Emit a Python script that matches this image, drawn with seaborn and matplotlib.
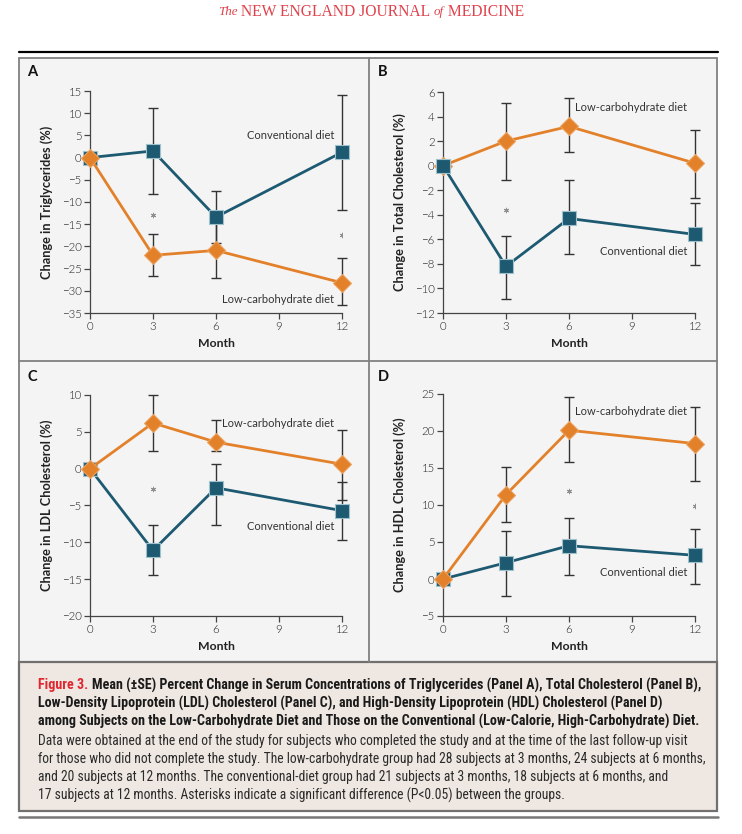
import numpy as np
import pandas as pd
import matplotlib
matplotlib.use("Agg")
import matplotlib.pyplot as plt
import seaborn as sns
from matplotlib.patches import Rectangle
from matplotlib.lines import Line2D
from matplotlib import font_manager as fm

# ---------------- data ----------------
months = [0, 3, 6, 12]
diets = ["Low-carbohydrate diet", "Conventional diet"]

# Panel A - triglycerides
tg_low = [0, -22.0, -20.9, -28.2]
tg_low_lo = [0, -26.7, -27.1, -33.3]
tg_low_hi = [0, -17.3, -14.7, -22.7]
tg_conv = [0, 1.5, -13.4, 1.2]
tg_conv_lo = [0, -8.2, -19.3, -11.8]
tg_conv_hi = [0, 11.2, -7.6, 14.0]
tg_stars = [(3, -13.0), (12, -17.5)]

# Panel B - total cholesterol
tc_low = [0, 2.0, 3.2, 0.2]
tc_low_lo = [0, -1.2, 1.1, -2.6]
tc_low_hi = [0, 5.1, 5.5, 2.9]
tc_conv = [0, -8.2, -4.3, -5.6]
tc_conv_lo = [0, -10.9, -7.2, -8.1]
tc_conv_hi = [0, -5.7, -1.2, -3.0]
tc_stars = [(3, -3.6)]

# Panel C - LDL cholesterol
ldl_low = [0, 6.2, 3.6, 0.6]
ldl_low_lo = [0, 2.4, 2.4, -4.2]
ldl_low_hi = [0, 10.0, 6.6, 5.2]
ldl_conv = [0, -11.1, -2.6, -5.7]
ldl_conv_lo = [0, -14.5, -7.7, -9.7]
ldl_conv_hi = [0, -7.6, 0.6, -1.8]
ldl_stars = [(3, -2.8)]

# Panel D - HDL cholesterol
hdl_low = [0, 11.4, 20.1, 18.3]
hdl_low_lo = [0, 7.7, 15.8, 13.2]
hdl_low_hi = [0, 15.2, 24.6, 23.2]
hdl_conv = [0, 2.2, 4.5, 3.2]
hdl_conv_lo = [0, -2.3, 0.6, -0.7]
hdl_conv_hi = [0, 6.5, 8.3, 6.8]
hdl_stars = [(6, 11.9), (12, 9.9)]

x_ticks = [0, 3, 6, 9, 12]

header_runs = [("The", "italic", 7.5), (" NEW ENGLAND JOURNAL ", "normal", 9), ("of", "italic", 7.5), (" MEDICINE", "normal", 9)]
caption_bold = [
    "Mean (\u00b1SE) Percent Change in Serum Concentrations of Triglycerides (Panel A), Total Cholesterol (Panel B),",
    "Low-Density Lipoprotein (LDL) Cholesterol (Panel C), and High-Density Lipoprotein (HDL) Cholesterol (Panel D)",
    "among Subjects on the Low-Carbohydrate Diet and Those on the Conventional (Low-Calorie, High-Carbohydrate) Diet.",
]
caption_regular = [
    "Data were obtained at the end of the study for subjects who completed the study and at the time of the last follow-up visit",
    "for those who did not complete the study. The low-carbohydrate group had 28 subjects at 3 months, 24 subjects at 6 months,",
    "and 20 subjects at 12 months. The conventional-diet group had 21 subjects at 3 months, 18 subjects at 6 months, and",
    "17 subjects at 12 months. Asterisks indicate a significant difference (P<0.05) between the groups.",
]

# ---------------- style ----------------
sns.set_theme(style="ticks")
names = {f.name for f in fm.fontManager.ttflist}
def pick(*cands):
    for c in cands:
        if c in names:
            return c
    return "DejaVu Sans"
SANS = pick("Lato", "Open Sans", "Roboto", "DejaVu Sans")
NARROW = pick("Liberation Sans Narrow", "Roboto Condensed", "Lato", "DejaVu Sans")
SERIF = pick("Liberation Serif", "DejaVu Serif")
plt.rcParams["font.family"] = [SANS, "DejaVu Sans"]
light_ok = any(f.name == SANS and f.weight in (300, "light") for f in fm.fontManager.ttflist)
TICK_WEIGHT = 300 if light_ok else "normal"

ORANGE = "#e3812b"
TEAL = "#1d5a72"
ERR = "#333333"
TXT = "#333333"
PANEL_BG = "#f4f4f4"
CAP_BG = "#efe8e2"
BORDER = "#808080"

W, H = 742, 834
fig = plt.figure(figsize=(W / 100, H / 100), dpi=100)
fig.patch.set_facecolor("white")

def fx(x):
    return x / W
def fy(y):
    return 1 - y / H

def rect(x0, y0, x1, y1, **kw):
    fig.patches.append(Rectangle((fx(x0), fy(y1)), fx(x1) - fx(x0), fy(y0) - fy(y1),
                                 transform=fig.transFigure, figure=fig, **kw))

def hline(x0, x1, y, **kw):
    fig.lines.append(Line2D([fx(x0), fx(x1)], [fy(y), fy(y)], transform=fig.transFigure, figure=fig, **kw))

def vline(x, y0, y1, **kw):
    fig.lines.append(Line2D([fx(x), fx(x)], [fy(y0), fy(y1)], transform=fig.transFigure, figure=fig, **kw))

# frames (drawn beneath the axes)
L, R, T, MIDX, MIDY, B, CB = 19, 717, 58, 369, 361, 662, 811
hline(L, R + 1, 52, color="black", lw=1.6, zorder=-1)
rect(L, T, R, B, facecolor=PANEL_BG, edgecolor=BORDER, lw=1.3, zorder=-3)
vline(MIDX, T, B, color=BORDER, lw=1.3, zorder=-2)
hline(L, R, MIDY, color=BORDER, lw=1.3, zorder=-2)
rect(L, B, R, CB, facecolor=CAP_BG, edgecolor="#707070", lw=1.6, zorder=-3)
hline(L, R + 1, 816.5, color="#777777", lw=1.8, zorder=-1)

panels = [
    dict(letter="A", lp=(27, 72), box=(90, 91, 342, 313), ylim=(-35, 15), step=5,
         ylabel="Change in Triglycerides (%)",
         low=(tg_low, tg_low_lo, tg_low_hi), conv=(tg_conv, tg_conv_lo, tg_conv_hi),
         stars=tg_stars, labels=[("Conventional diet", 4.9), ("Low-carbohydrate diet", -31.9)], conv_top=False),
    dict(letter="B", lp=(378, 72), box=(443, 92, 695, 313), ylim=(-12, 6), step=2,
         ylabel="Change in Total Cholesterol (%)",
         low=(tc_low, tc_low_lo, tc_low_hi), conv=(tc_conv, tc_conv_lo, tc_conv_hi),
         stars=tc_stars, labels=[("Low-carbohydrate diet", 4.7), ("Conventional diet", -7.0)], conv_top=True),
    dict(letter="C", lp=(27, 377), box=(90, 395, 342, 616), ylim=(-20, 10), step=5,
         ylabel="Change in LDL Cholesterol (%)",
         low=(ldl_low, ldl_low_lo, ldl_low_hi), conv=(ldl_conv, ldl_conv_lo, ldl_conv_hi),
         stars=ldl_stars, labels=[("Low-carbohydrate diet", 6.1), ("Conventional diet", -7.9)], conv_top=False),
    dict(letter="D", lp=(378, 377), box=(443, 394, 695, 616), ylim=(-5, 25), step=5,
         ylabel="Change in HDL Cholesterol (%)",
         low=(hdl_low, hdl_low_lo, hdl_low_hi), conv=(hdl_conv, hdl_conv_lo, hdl_conv_hi),
         stars=hdl_stars, labels=[("Low-carbohydrate diet", 22.65), ("Conventional diet", 0.87)], conv_top=False),
]

def draw_series(ax, vals, diet, color, marker, ms, mec):
    df = pd.DataFrame({"Month": months, "Change": vals, "Diet": [diet] * len(months)})
    sns.lineplot(data=df, x="Month", y="Change", color=color, marker=marker, markersize=ms,
                 markeredgecolor=mec, markeredgewidth=0.8, linewidth=2.0, ax=ax,
                 clip_on=False, zorder=4, legend=False)

for p in panels:
    x0, y0, x1, y1 = p["box"]
    ax = fig.add_axes([fx(x0), fy(y1), fx(x1) - fx(x0), fy(y0) - fy(y1)])
    ax.set_facecolor("none")
    # error bars
    for (vals, lo, hi) in (p["low"], p["conv"]):
        v = np.array(vals[1:]); l = np.array(lo[1:]); h = np.array(hi[1:])
        ax.errorbar(months[1:], v, yerr=[v - l, h - v], fmt="none", ecolor=ERR,
                    elinewidth=1.0, capsize=3.8, capthick=1.0, zorder=3, clip_on=False)
    order = [("conv", TEAL, "s", 10.0, "#9fc0cd"), ("low", ORANGE, "D", 8.8, "#eba15c")]
    if p["conv_top"]:
        order = order[::-1]
    for key, color, marker, ms, mec in order:
        vals = p[key][0]
        diet = diets[1] if key == "conv" else diets[0]
        draw_series(ax, vals, diet, color, marker, ms, mec)
    # significance asterisks
    sx = [s[0] for s in p["stars"]]; sy = [s[1] for s in p["stars"]]
    ax.plot(sx, sy, linestyle="none", marker=(6, 2, 0), markersize=3.8, color="#8f8f8f",
            markeredgewidth=0.7, zorder=5)
    for text, yv in p["labels"]:
        ax.text(11.62, yv, text, ha="right", va="center", fontsize=8, color=TXT, zorder=6)
    ax.set_xlim(0, 12)
    ax.set_ylim(*p["ylim"])
    ax.set_xticks(x_ticks)
    ax.set_yticks(np.arange(p["ylim"][0], p["ylim"][1] + 0.01, p["step"]))
    sns.despine(ax=ax)
    for s in ("left", "bottom"):
        ax.spines[s].set_color("#444444")
        ax.spines[s].set_linewidth(0.9)
    ax.tick_params(direction="out", length=4, width=0.9, color="#444444",
                   labelsize=8.3, labelcolor="#222222", pad=2)
    for lab in ax.get_xticklabels() + ax.get_yticklabels():
        lab.set_fontweight(TICK_WEIGHT)
    ax.set_xlabel("Month", fontsize=8.8, fontweight="bold", color="#222222")
    ax.set_ylabel(p["ylabel"], fontsize=9.2, fontweight="bold", color="#222222")
    ax.xaxis.set_label_coords(0.5, -0.112)
    ax.yaxis.set_label_coords(-0.145, 0.5)
    fig.text(fx(p["lp"][0]), fy(p["lp"][1]), p["letter"], fontsize=10.5, fontweight="bold",
             ha="left", va="center", color="#111111")

# ---------------- header and caption text ----------------
renderer = fig.canvas.get_renderer()

def width_of(s, **kw):
    t = fig.text(0, 0, s, **kw)
    w = t.get_window_extent(renderer).width
    t.remove()
    return w

def place_runs(x, y, runs):
    for s, kw in runs:
        t = fig.text(fx(x), fy(y), s, ha="left", va="center", **kw)
        x += t.get_window_extent(renderer).width

# header: fit to ~306 px wide, centred at x=371
hdr_kw = lambda style, size, k: dict(family=[SERIF], style=style, fontsize=size * k, color="#e0434d")
tot = sum(width_of(s, **hdr_kw(st, sz, 1.0)) for s, st, sz in header_runs)
k = 306 / tot
tot = sum(width_of(s, **hdr_kw(st, sz, k)) for s, st, sz in header_runs)
place_runs(371 - tot / 2, 12, [(s, hdr_kw(st, sz, k)) for s, st, sz in header_runs])

# caption
cap_x = 38
target = 663
fam = [NARROW, "DejaVu Sans"]
bold_w = max([width_of("Figure 3. " + caption_bold[0], family=fam, fontweight="bold", fontsize=10)] +
             [width_of(s, family=fam, fontweight="bold", fontsize=10) for s in caption_bold[1:]])
reg_w = max(width_of(s, family=fam, fontsize=10) for s in caption_regular)
bold_size = 10 * target / bold_w
reg_size = 10 * target / reg_w
bold_kw = dict(family=fam, fontweight="bold", fontsize=bold_size, color="#1a1a1a")
ys_bold = [685, 703, 721]
ys_reg = [741, 759, 777, 795]
place_runs(cap_x, ys_bold[0], [("Figure 3. ", dict(bold_kw, color="#e0262f")), (caption_bold[0], bold_kw)])
for s, y in zip(caption_bold[1:], ys_bold[1:]):
    place_runs(cap_x, y, [(s, bold_kw)])
reg_kw = dict(family=fam, fontsize=reg_size, color="#2a2a2a")
for s, y in zip(caption_regular, ys_reg):
    place_runs(cap_x, y, [(s, reg_kw)])

fig.savefig("out.png", dpi=100)
